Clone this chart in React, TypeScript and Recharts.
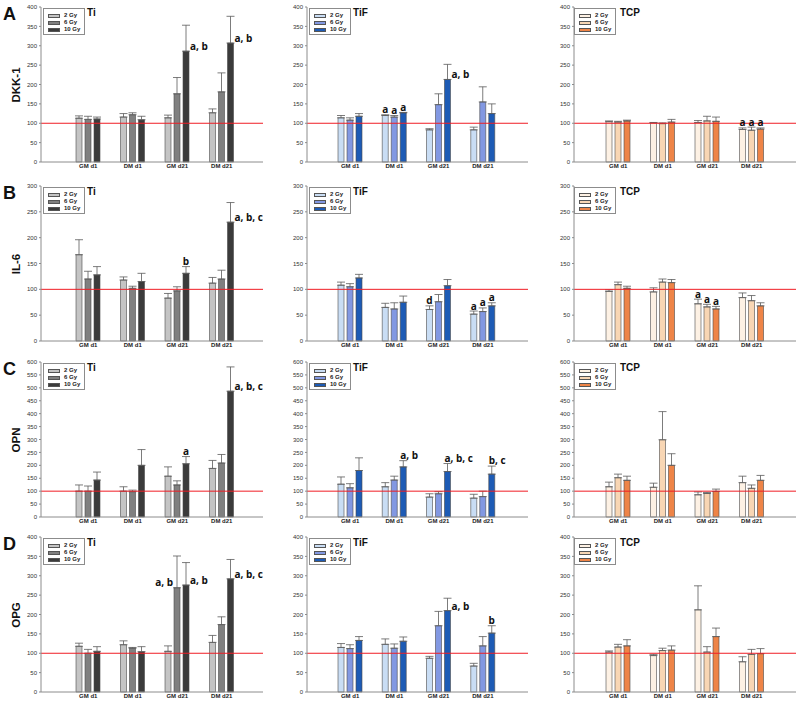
import { Bar, BarChart, ErrorBar, LabelList, ReferenceLine, XAxis, YAxis } from "recharts";

const CATEGORIES = ["GM d1", "DM d1", "GM d21", "DM d21"];
const DOSES = ["2 Gy", "6 Gy", "10 Gy"];
const MARKERS = ["DKK-1", "IL-6", "OPN", "OPG"];
const LETTERS = ["A", "B", "C", "D"];
const SURFACES = ["Ti", "TiF", "TCP"];
const Y_MAX = [400, 300, 600, 400];

// one row per dose (2, 6, 10 Gy), one value per category, % of control
const DKK1_TI = [[113, 116, 114, 127], [110, 122, 176, 181], [111, 109, 286, 307]];
const DKK1_TI_SD = [[6, 9, 7, 10], [8, 5, 42, 49], [5, 9, 67, 69]];
const DKK1_TIF = [[114, 120, 83, 83], [108, 116, 148, 155], [118, 127, 213, 125]];
const DKK1_TIF_SD = [[6, 2, 3, 7], [6, 4, 28, 39], [7, 1, 39, 25]];
const DKK1_TCP = [[104, 101, 102, 84], [103, 99, 106, 82], [106, 103, 105, 85]];
const DKK1_TCP_SD = [[2, 1, 5, 4], [2, 2, 12, 8], [2, 7, 11, 3]];

const IL6_TI = [[167, 118, 83, 112], [120, 102, 97, 120], [128, 115, 131, 230]];
const IL6_TI_SD = [[29, 6, 9, 11], [15, 4, 8, 17], [16, 16, 13, 38]];
const IL6_TIF = [[108, 65, 61, 52], [105, 62, 76, 57], [122, 75, 107, 68]];
const IL6_TIF_SD = [[6, 8, 7, 6], [6, 12, 14, 7], [7, 12, 12, 6]];
const IL6_TCP = [[96, 95, 72, 84], [109, 114, 66, 78], [102, 113, 62, 68]];
const IL6_TCP_SD = [[3, 8, 9, 9], [5, 6, 5, 10], [4, 6, 5, 6]];

const OPN_TI = [[100, 100, 158, 188], [100, 98, 124, 209], [143, 200, 206, 487]];
const OPN_TI_SD = [[24, 17, 36, 31], [20, 6, 16, 33], [31, 61, 28, 94]];
const OPN_TIF = [[127, 117, 77, 73], [113, 143, 90, 79], [180, 194, 176, 166]];
const OPN_TIF_SD = [[28, 16, 13, 15], [16, 15, 8, 21], [49, 24, 31, 31]];
const OPN_TCP = [[117, 115, 86, 133], [152, 299, 91, 111], [142, 200, 99, 142]];
const OPN_TCP_SD = [[18, 16, 11, 25], [14, 109, 4, 13], [16, 45, 9, 19]];

const OPG_TI = [[118, 122, 105, 128], [100, 113, 269, 174], [105, 104, 276, 292]];
const OPG_TI_SD = [[8, 10, 14, 18], [10, 2, 82, 20], [12, 13, 58, 50]];
const OPG_TIF = [[115, 123, 87, 67], [112, 113, 171, 119], [133, 131, 210, 152]];
const OPG_TIF_SD = [[10, 14, 5, 7], [10, 11, 37, 24], [10, 11, 32, 19]];
const OPG_TCP = [[103, 94, 212, 78], [116, 107, 103, 97], [119, 108, 143, 99]];
const OPG_TCP_SD = [[3, 3, 62, 13], [7, 6, 14, 13], [16, 11, 22, 13]];

const MEANS = [
  [DKK1_TI, DKK1_TIF, DKK1_TCP],
  [IL6_TI, IL6_TIF, IL6_TCP],
  [OPN_TI, OPN_TIF, OPN_TCP],
  [OPG_TI, OPG_TIF, OPG_TCP],
];
const SDS = [
  [DKK1_TI_SD, DKK1_TIF_SD, DKK1_TCP_SD],
  [IL6_TI_SD, IL6_TIF_SD, IL6_TCP_SD],
  [OPN_TI_SD, OPN_TIF_SD, OPN_TCP_SD],
  [OPG_TI_SD, OPG_TIF_SD, OPG_TCP_SD],
];

// significance letters: row = marker, col = surface, cat, dose index
const NOTES = [
  { row: 0, col: 0, cat: 2, dose: 2, text: "a, b" },
  { row: 0, col: 0, cat: 3, dose: 2, text: "a, b" },
  { row: 0, col: 1, cat: 1, dose: 0, text: "a" },
  { row: 0, col: 1, cat: 1, dose: 1, text: "a" },
  { row: 0, col: 1, cat: 1, dose: 2, text: "a" },
  { row: 0, col: 1, cat: 2, dose: 2, text: "a, b" },
  { row: 0, col: 2, cat: 3, dose: 0, text: "a" },
  { row: 0, col: 2, cat: 3, dose: 1, text: "a" },
  { row: 0, col: 2, cat: 3, dose: 2, text: "a" },
  { row: 1, col: 0, cat: 2, dose: 2, text: "b" },
  { row: 1, col: 0, cat: 3, dose: 2, text: "a, b, c" },
  { row: 1, col: 1, cat: 2, dose: 0, text: "d" },
  { row: 1, col: 1, cat: 3, dose: 0, text: "a" },
  { row: 1, col: 1, cat: 3, dose: 1, text: "a" },
  { row: 1, col: 1, cat: 3, dose: 2, text: "a" },
  { row: 1, col: 2, cat: 2, dose: 0, text: "a" },
  { row: 1, col: 2, cat: 2, dose: 1, text: "a" },
  { row: 1, col: 2, cat: 2, dose: 2, text: "a" },
  { row: 2, col: 0, cat: 2, dose: 2, text: "a" },
  { row: 2, col: 0, cat: 3, dose: 2, text: "a, b, c" },
  { row: 2, col: 1, cat: 1, dose: 2, text: "a, b" },
  { row: 2, col: 1, cat: 2, dose: 2, text: "a, b, c" },
  { row: 2, col: 1, cat: 3, dose: 2, text: "b, c" },
  { row: 3, col: 0, cat: 2, dose: 1, text: "a, b" },
  { row: 3, col: 0, cat: 2, dose: 2, text: "a, b" },
  { row: 3, col: 0, cat: 3, dose: 2, text: "a, b, c" },
  { row: 3, col: 1, cat: 2, dose: 2, text: "a, b" },
  { row: 3, col: 1, cat: 3, dose: 2, text: "b" },
];
// where each note sits relative to its bar (same order as NOTES)
const NOTE_SIDE = [
  "right", "right",
  "top", "top", "top", "right",
  "top", "top", "top",
  "top", "right",
  "top", "top", "top", "top",
  "top", "top", "top",
  "top", "right",
  "start", "start", "start",
  "left", "right", "right",
  "right", "top",
];

const COLORS = [
  ["#c4c4c4", "#808080", "#3b3b3b"],
  ["#c9ddf4", "#8298e2", "#1d5bb5"],
  ["#fdf1e4", "#f8d6b4", "#ee8447"],
];

const PLOT_LEFT = [41, 307, 574];
const PLOT_WIDTH = [222, 221, 222];
const PLOT_TOP = [7, 186, 362, 537];
const PLOT_HEIGHT = 155;
const X_PAD = [
  { left: 25, right: 19 },
  { left: 21, right: 23 },
  { left: 22, right: 22 },
];
const AXIS_W = 35;
const TOP_M = 6;
const X_AXIS_H = 20;
const FRAME = "#8c8c8c";
const SANS = "'Liberation Sans', Arial, sans-serif";

function makeNote(rows: any[], d: number, pxPerUnit: number) {
  return (props: any) => {
    const vb = props.viewBox ?? props;
    const index = props.index;
    const row = rows[index];
    if (!row) return null;
    const text = row[`n${d}`];
    if (!text) return null;
    const x = Number(vb.x);
    const w = Number(vb.width);
    const y = Number(vb.y);
    const h = Number(vb.height);
    const top = Math.min(y, y + h);
    const errTop = top - row[`s${d}`] * pxPerUnit;
    const side = row[`p${d}`];
    let tx = x + w / 2;
    let ty = errTop - 1.5;
    let anchor: "start" | "middle" | "end" = "middle";
    if (side === "right") {
      tx = x + w + 1;
      ty = top - 1;
      anchor = "start";
    } else if (side === "left") {
      tx = x - 1;
      ty = top - 2;
      anchor = "end";
    } else if (side === "start") {
      tx = x;
      ty = errTop - 2;
      anchor = "start";
    }
    return (
      <text x={tx} y={ty} textAnchor={anchor} fontSize={10} fontWeight={700} fill="#111" fontFamily="'Open Sans', sans-serif">
        {text}
      </text>
    );
  };
}

function Panel({ row, col }: { row: number; col: number }) {
  const means = MEANS[row][col];
  const sds = SDS[row][col];
  const ymax = Y_MAX[row];
  const ticks: number[] = [];
  for (let t = 0; t <= ymax; t += 50) ticks.push(t);

  const data: any[] = CATEGORIES.map((cat, i) => {
    const r: any = { cat };
    DOSES.forEach((_, d) => {
      r[`m${d}`] = means[d][i];
      r[`s${d}`] = sds[d][i];
      r[`e${d}`] = [0, sds[d][i]];
      r[`n${d}`] = "";
      r[`p${d}`] = "";
    });
    return r;
  });
  NOTES.forEach((n, k) => {
    if (n.row === row && n.col === col) {
      data[n.cat][`n${n.dose}`] = n.text;
      data[n.cat][`p${n.dose}`] = NOTE_SIDE[k];
    }
  });

  const width = AXIS_W + PLOT_WIDTH[col] + 5;
  const height = TOP_M + PLOT_HEIGHT + X_AXIS_H;
  const pxPerUnit = PLOT_HEIGHT / ymax;

  return (
    <div style={{ position: "absolute", left: PLOT_LEFT[col] - AXIS_W, top: PLOT_TOP[row] - TOP_M, width, height }}>
      <BarChart
        width={width}
        height={height}
        data={data}
        margin={{ top: TOP_M, right: 5, bottom: 0, left: 0 }}
        barSize={6}
        barGap={3}
      >
        <XAxis
          dataKey="cat"
          height={X_AXIS_H}
          padding={X_PAD[col]}
          tickLine={false}
          tickSize={0}
          tickMargin={2}
          axisLine={{ stroke: FRAME }}
          tick={{ fontSize: 6, fontWeight: 700, fill: "#222", fontFamily: SANS }}
          interval={0}
        />
        <XAxis xAxisId="top" orientation="top" dataKey="cat" height={0} tick={false} tickLine={false} axisLine={{ stroke: FRAME }} />
        <YAxis
          domain={[0, ymax]}
          ticks={ticks}
          interval={0}
          width={AXIS_W}
          tickSize={2}
          tickMargin={2}
          axisLine={{ stroke: FRAME }}
          tickLine={{ stroke: FRAME }}
          tick={{ fontSize: 6, fill: "#333", fontFamily: SANS }}
        />
        <YAxis yAxisId="right" orientation="right" domain={[0, ymax]} width={0} tick={false} tickLine={false} axisLine={{ stroke: FRAME }} />
        {DOSES.map((dose, d) => (
          <Bar
            key={dose}
            dataKey={`m${d}`}
            name={dose}
            fill={COLORS[col][d]}
            stroke="#4a4a4a"
            strokeWidth={0.6}
            isAnimationActive={false}
          >
            <ErrorBar dataKey={`e${d}`} direction="y" width={4} stroke="#5a5a5a" strokeWidth={0.8} isAnimationActive={false} />
            <LabelList dataKey={`n${d}`} content={makeNote(data, d, pxPerUnit)} />
          </Bar>
        ))}
        <ReferenceLine y={100} stroke="#f01c24" strokeWidth={1} />
      </BarChart>

      <div
        style={{
          position: "absolute",
          left: AXIS_W + (col === 2 ? 0 : 2),
          top: TOP_M + 1,
          width: 42,
          height: 27,
          boxSizing: "border-box",
          border: `1px solid ${FRAME}`,
          background: "#fff",
          padding: "3px 0 0 4px",
          fontFamily: SANS,
          fontSize: 6,
          fontWeight: 700,
          color: "#222",
        }}
      >
        {DOSES.map((dose, d) => (
          <div key={dose} style={{ display: "flex", alignItems: "center", height: 7, lineHeight: "7px" }}>
            <span
              style={{
                display: "inline-block",
                width: 12,
                height: 4,
                boxSizing: "border-box",
                background: COLORS[col][d],
                border: "0.6px solid #555",
                marginRight: 4,
              }}
            />
            {dose}
          </div>
        ))}
      </div>
      <div
        style={{
          position: "absolute",
          left: AXIS_W + 46,
          top: TOP_M + 1,
          fontFamily: SANS,
          fontSize: 10,
          fontWeight: 700,
          lineHeight: 1,
          color: "#111",
        }}
      >
        {SURFACES[col]}
      </div>
    </div>
  );
}

export default function App() {
  return (
    <div style={{ position: "fixed", left: 0, top: 0, width: 800, height: 706, background: "#fff", overflow: "hidden" }}>
      {MARKERS.map((marker, row) => (
        <div key={marker}>
          <div
            style={{
              position: "absolute",
              left: 3,
              top: PLOT_TOP[row] - 2.5,
              fontFamily: SANS,
              fontSize: 18,
              fontWeight: 700,
              lineHeight: 1,
              color: "#111",
            }}
          >
            {LETTERS[row]}
          </div>
          <div
            style={{
              position: "absolute",
              left: 15.5 - 40,
              top: PLOT_TOP[row] + PLOT_HEIGHT / 2 - 7,
              width: 80,
              height: 14,
              lineHeight: "14px",
              textAlign: "center",
              transform: "rotate(-90deg)",
              fontFamily: SANS,
              fontSize: 11.5,
              fontWeight: 700,
              color: "#111",
            }}
          >
            {marker}
          </div>
          {SURFACES.map((s, col) => (
            <Panel key={s} row={row} col={col} />
          ))}
        </div>
      ))}
    </div>
  );
}
